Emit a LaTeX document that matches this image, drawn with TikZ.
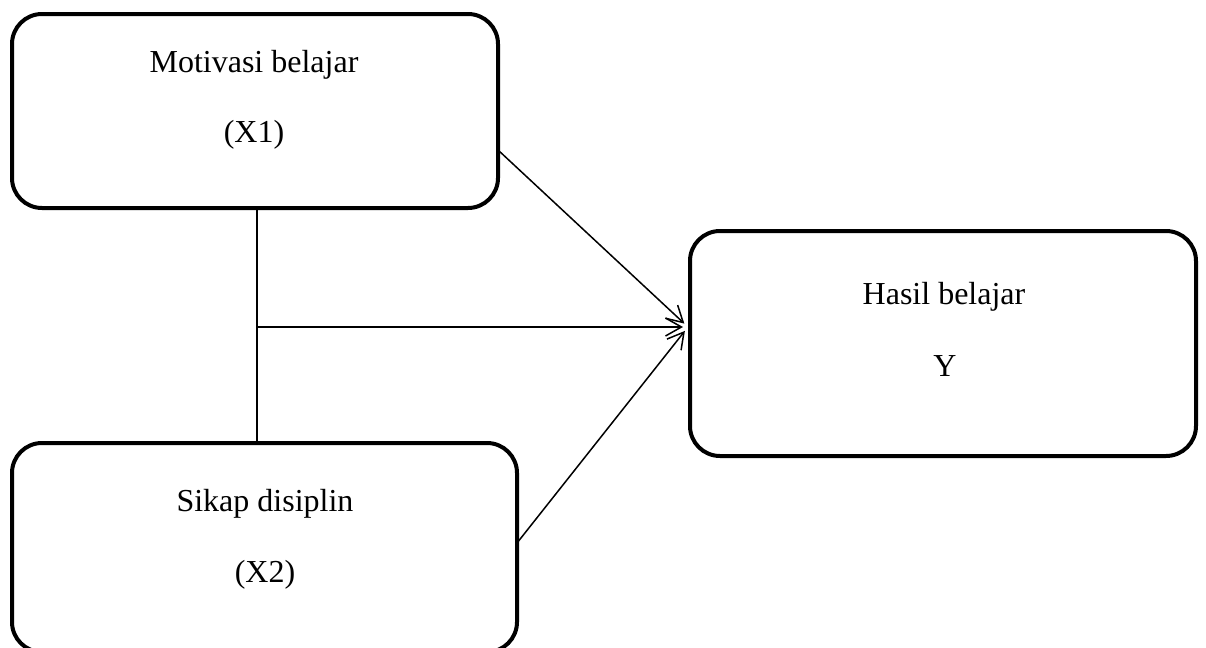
\documentclass[tikz,border=0pt]{standalone}
\usepackage{fontspec}
\setmainfont{Liberation Serif}
\usetikzlibrary{arrows.meta}
\begin{document}
\begin{tikzpicture}[x=0.5pt,y=-0.5pt,
  box/.style={draw,line width=2pt,rounded corners=15pt,inner sep=0pt},
  lbl/.style={anchor=base,inner sep=0pt,font=\fontsize{16pt}{19pt}\selectfont},
  conn/.style={line width=0.75pt},
  arr/.style={conn,-{Straight Barb[length=8pt,width=9pt,line width=0.75pt]},shorten >=2.5pt}]
\useasboundingbox (0,0) rectangle (1206,648);
\node[box,minimum width=243pt,minimum height=97pt] (X1) at (255,111) {};
\node[box,minimum width=252.5pt,minimum height=104.5pt] (X2) at (264.5,547.5) {};
\node[box,minimum width=253pt,minimum height=112.5pt] (Y) at (943,343.5) {};
\node[lbl] (t1) at (254,72) {Motivasi belajar};
\node[lbl] (t2) at (254,142) {(X1)};
\node[lbl] (t3) at (265,511) {Sikap disiplin};
\node[lbl] (t4) at (265,582) {(X2)};
\node[lbl] (t5) at (944,304) {Hasil belajar};
\node[lbl] (t6) at (945,376) {Y};
\coordinate (j) at (257,327);
\coordinate (a1) at (498,150);
\coordinate (a2) at (517,543);
\coordinate (tip) at (j -| Y.west);
\draw[conn] (j |- X1.south) -- (j |- X2.north);
\draw[arr] (j) -- (tip);
\draw[arr] (a1) -- (tip);
\draw[arr] (a2) -- (tip);
\end{tikzpicture}
\end{document}
